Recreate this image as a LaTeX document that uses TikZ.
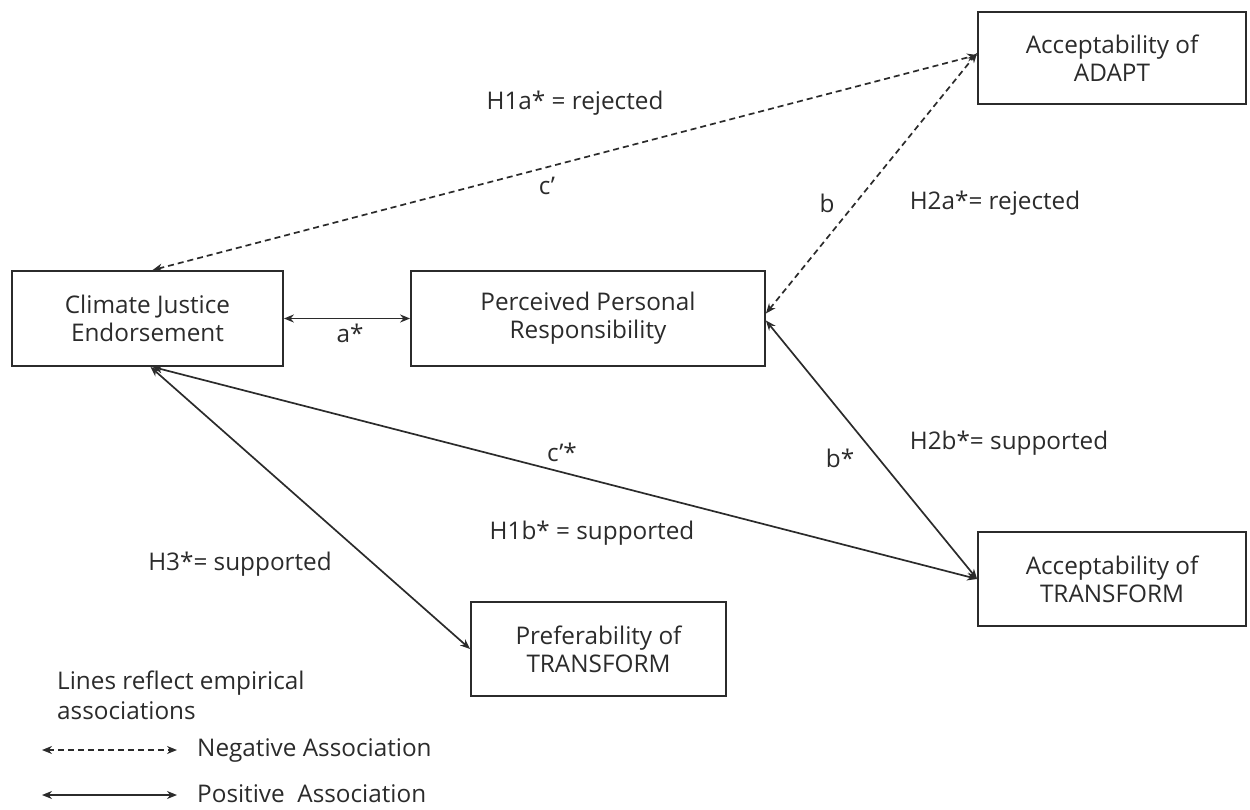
\documentclass[tikz,border=0pt]{standalone}
\usepackage{fontspec}
\setmainfont{Open Sans}
\usetikzlibrary{arrows.meta}
\definecolor{ink}{HTML}{2B2B2B}
\begin{document}
\begin{tikzpicture}[x=1pt,y=-1pt,
  every node/.style={text=ink,font=\fontsize{24.3}{28}\selectfont},
  box/.style={draw=ink,line width=1.8pt,align=center,inner sep=0pt,fill=white},
  lbl/.style={inner sep=0pt},
  conn/.style={draw=ink,line width=1.7pt,{Stealth[length=10pt,width=8pt]}-{Stealth[length=10pt,width=8pt]}},
  negline/.style={conn,dash pattern=on 6pt off 4pt},
  posline/.style={conn}]
\useasboundingbox (0,0) rectangle (1250,810);
\node[box,minimum width=271pt,minimum height=95pt] (cje) at (147.5,318.5) {Climate Justice\\Endorsement};
\node[box,minimum width=354pt,minimum height=95pt] (ppr) at (588,318.5) {Perceived Personal\\Responsibility};
\node[box,minimum width=268pt,minimum height=92pt] (adapt) at (1112,58) {Acceptability of\\ADAPT};
\node[box,minimum width=268pt,minimum height=94pt] (atr) at (1112,579) {Acceptability of\\TRANSFORM};
\node[box,minimum width=255pt,minimum height=94pt] (pref) at (598.5,649) {Preferability of\\TRANSFORM};

\draw[negline] ([xshift=5pt]cje.north) -- ([yshift=3pt]adapt.west);
\draw[negline] ([yshift=5pt]ppr.east) -- ([yshift=5pt]adapt.west);
\draw[posline] (cje.east) -- (ppr.west);
\draw[posline] ([xshift=5pt]cje.south) -- (atr.west);
\draw[posline] ([yshift=-2pt]ppr.east) -- (atr.west);
\draw[posline] ([xshift=3pt]cje.south) -- (pref.west);

\node[lbl] (l1) at (575,103) {H1a* = rejected};
\node[lbl] (l2) at (547,186) {c’};
\node[lbl] (l3) at (827,203) {b};
\node[lbl] (l4) at (995,203) {H2a*= rejected};
\node[lbl] (l5) at (350,333) {a*};
\node[lbl] (l6) at (562,452) {c’*};
\node[lbl] (l7) at (592,533) {H1b* = supported};
\node[lbl] (l8) at (840,458) {b*};
\node[lbl] (l9) at (1009,443) {H2b*= supported};
\node[lbl] (l10) at (240,564) {H3*= supported};

\node[lbl,anchor=west] (lg1) at (57,683) {Lines reflect empirical};
\node[lbl,anchor=west] (lg2) at (57,711) {associations};
\coordinate (n1) at (42,750);
\coordinate (n2) at (177,750);
\coordinate (p1) at (42,795);
\coordinate (p2) at (177,795);
\draw[negline] (n1) -- (n2);
\draw[posline] (p1) -- (p2);
\node[lbl,anchor=west] (lg3) at (197,750) {Negative Association};
\node[lbl,anchor=west] (lg4) at (197,794) {Positive\ \ Association};
\end{tikzpicture}
\end{document}
